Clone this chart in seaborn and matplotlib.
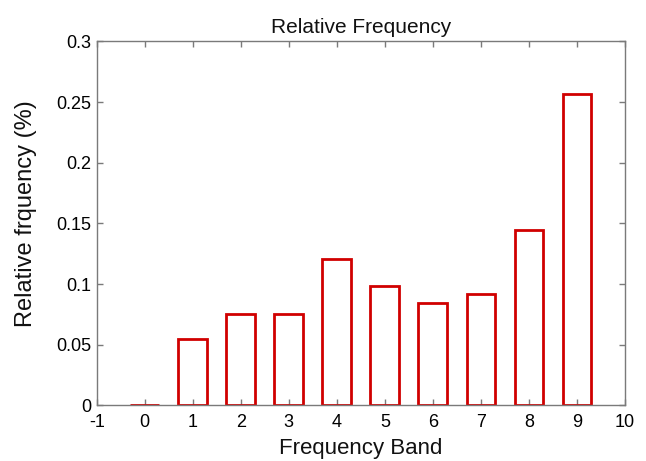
import matplotlib
matplotlib.use("Agg")
import matplotlib.pyplot as plt
import seaborn as sns
import pandas as pd
from matplotlib.ticker import FixedLocator, FuncFormatter

# Data
bands = [0, 1, 2, 3, 4, 5, 6, 7, 8, 9]
rel_freq = [0.0008, 0.0544, 0.0752, 0.0752, 0.1205, 0.0988, 0.0848, 0.0917, 0.1443, 0.2570]
x_ticks = [-1, 0, 1, 2, 3, 4, 5, 6, 7, 8, 9, 10]
y_ticks = [0, 0.05, 0.1, 0.15, 0.2, 0.25, 0.3]

df = pd.DataFrame({"band": bands, "freq": rel_freq})

sns.set_theme(style="white")
plt.rcParams["font.family"] = ["Liberation Sans", "DejaVu Sans"]

fig = plt.figure(figsize=(6.46, 4.61), dpi=100)
ax = fig.add_axes([0.1497, 0.1204, 0.8178, 0.7900])

sns.barplot(data=df, x="band", y="freq", native_scale=True, width=0.6,
            fill=False, color="#D00000", linewidth=2.0, errorbar=None, ax=ax)
for p in ax.patches:
    p.set_edgecolor("#D00000")
    p.set_facecolor("none")

ax.set_xlim(-1, 10)
ax.set_ylim(0, 0.3)
ax.xaxis.set_major_locator(FixedLocator(x_ticks))
ax.yaxis.set_major_locator(FixedLocator(y_ticks))
ax.yaxis.set_major_formatter(FuncFormatter(lambda v, pos: f"{v:g}"))
ax.xaxis.set_major_formatter(FuncFormatter(lambda v, pos: f"{v:g}"))

gray = "#7a7a7a"
for s in ax.spines.values():
    s.set_visible(True)
    s.set_color(gray)
    s.set_linewidth(1.0)

ax.tick_params(axis="both", which="major", direction="in", length=4.5, width=1.0,
               color=gray, labelcolor="black", labelsize=13,
               top=True, right=True, bottom=True, left=True)
ax.tick_params(axis="x", pad=6)
ax.tick_params(axis="y", pad=4)

ax.set_title("Relative Frequency", fontsize=15, pad=6, color="#111111")
ax.set_xlabel("Frequency Band", fontsize=16, labelpad=5, color="#111111")
ax.set_ylabel("Relative frquency (%)", fontsize=17, color="#111111")
ax.yaxis.set_label_coords(-0.113, 0.527)
ax.grid(False)

fig.savefig("out.png", dpi=100)
